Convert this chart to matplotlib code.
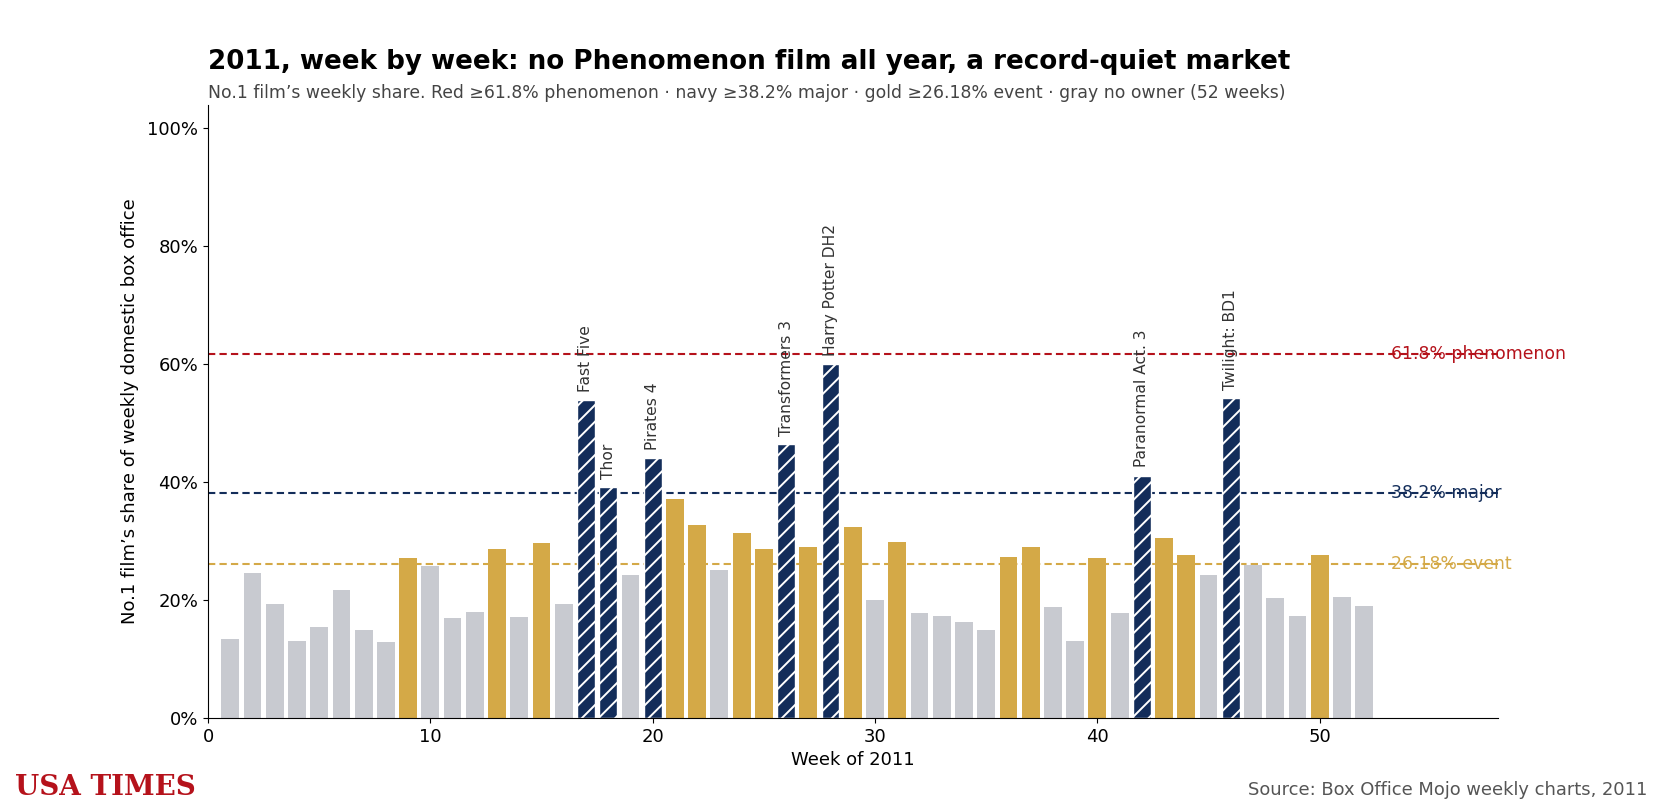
import matplotlib
matplotlib.use("Agg")
import matplotlib.pyplot as plt
from matplotlib.ticker import FuncFormatter

weeks = list(range(1, 53))
share = [13.4, 24.6, 19.3, 13.1, 15.4, 21.7, 14.9, 12.9, 27.1, 25.8,
         16.9, 18.0, 28.6, 17.1, 29.7, 19.3, 53.9, 39.2, 24.2, 44.1,
         37.2, 32.7, 25.1, 31.4, 28.6, 46.4, 29.0, 60.0, 32.4, 20.0,
         29.8, 17.8, 17.3, 16.3, 14.9, 27.3, 29.0, 18.8, 13.1, 27.1,
         17.8, 41.1, 30.5, 27.6, 24.2, 54.3, 25.9, 20.3, 17.3, 27.6,
         20.5, 19.0]
labels = {17: "Fast Five", 18: "Thor", 20: "Pirates 4", 26: "Transformers 3",
          28: "Harry Potter DH2", 42: "Paranormal Act. 3", 46: "Twilight: BD1"}
thresholds = [61.8, 38.2, 26.18]
threshold_names = ["61.8% phenomenon", "38.2% major", "26.18% event"]

RED = "#b5121b"
NAVY = "#132d5a"
GOLD = "#d4a947"
GRAY = "#c8cad0"
th_colors = [RED, NAVY, GOLD]

plt.rcParams['hatch.linewidth'] = 1.4

fig = plt.figure(figsize=(16.64, 8.06), dpi=100)
ax = fig.add_axes([0.125, 0.109, 0.775, 0.761])

for w, s in zip(weeks, share):
    if s >= thresholds[0]:
        ax.bar(w, s, width=0.8, color=RED, zorder=2)
    elif s >= thresholds[1]:
        ax.bar(w, s, width=0.8, color=NAVY, hatch="//", edgecolor="white",
               linewidth=1.0, zorder=2)
    elif s >= thresholds[2]:
        ax.bar(w, s, width=0.8, color=GOLD, zorder=2)
    else:
        ax.bar(w, s, width=0.8, color=GRAY, zorder=2)

for t, name, c in zip(thresholds, threshold_names, th_colors):
    ax.axhline(t, color=c, linestyle=(0, (3.5, 2)), linewidth=1.5, zorder=1)
    ax.text(53.2, t, name, color=c, fontsize=12.4, va="center", ha="left", zorder=3)

for w, name in labels.items():
    ax.text(w, share[w - 1] + 1.4, name, rotation=90, ha="center", va="bottom",
            fontsize=11.2, color="#333333")

ax.set_xlim(0, 58)
ax.set_ylim(0, 104)
ax.set_yticks([0, 20, 40, 60, 80, 100])
ax.yaxis.set_major_formatter(FuncFormatter(lambda v, p: f"{v:.0f}%"))
ax.set_xticks([0, 10, 20, 30, 40, 50])
ax.tick_params(labelsize=13)
ax.spines["top"].set_visible(False)
ax.spines["right"].set_visible(False)
ax.set_xlabel("Week of 2011", fontsize=13)
ax.set_ylabel("No.1 film\u2019s share of weekly domestic box office", fontsize=13,
              labelpad=6)

fig.text(0.125, 0.915, "2011, week by week: no Phenomenon film all year, a record-quiet market",
         fontsize=18.85, fontweight="bold", ha="left", va="baseline")
fig.text(0.125, 0.879, "No.1 film\u2019s weekly share. Red \u226561.8% phenomenon \u00b7 navy \u226538.2% major \u00b7 gold \u226526.18% event \u00b7 gray no owner (52 weeks)",
         fontsize=12.4, color="#444444", ha="left", va="baseline")
fig.text(0.009, 0.014, "USA TIMES", fontsize=20, fontweight="bold", color="#b5121b",
         family="DejaVu Serif", ha="left", va="baseline")
fig.text(0.99, 0.014, "Source: Box Office Mojo weekly charts, 2011", fontsize=12.9,
         color="#555555", ha="right", va="baseline")

fig.savefig("out.png", dpi=100)
